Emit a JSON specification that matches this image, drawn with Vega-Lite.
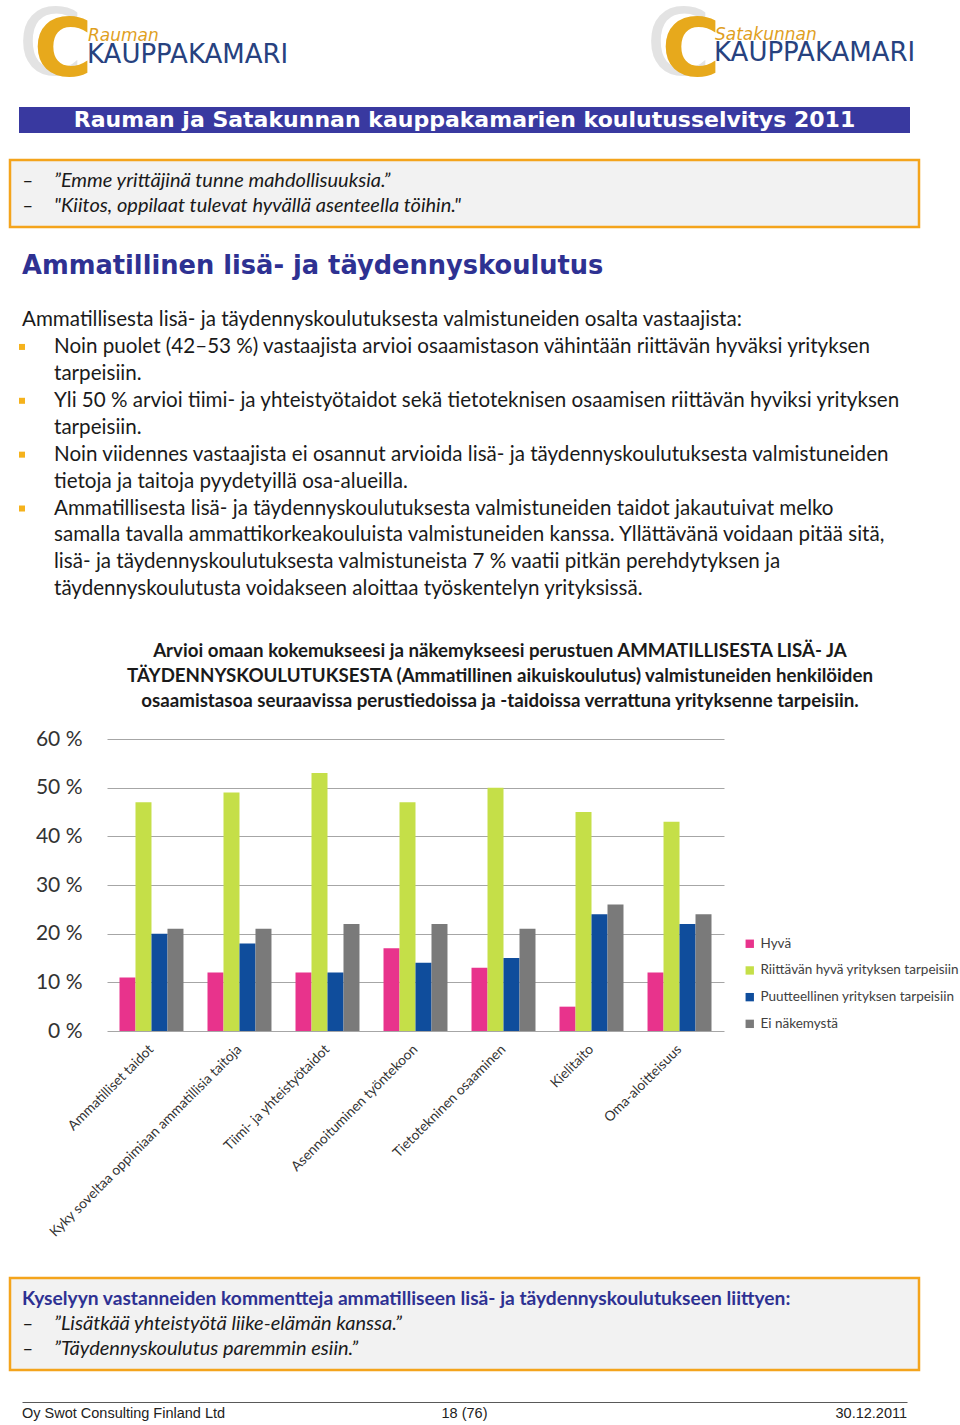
{
  "$schema": "https://vega.github.io/schema/vega-lite/v6.json",
  "padding": {"left": 8, "top": 0, "right": 0, "bottom": 0},
  "background": "white",
  "bounds": "flush",
  "spacing": 0,
  "config": {"view": {"stroke": null}, "concat": {"spacing": 0}, "font": "Lato"},
  "datasets": {
    "logos": [
      {"logo": "Rauman", "city": "Rauman", "name": "KAUPPAKAMARI", "c": "C"},
      {"logo": "Satakunnan", "city": "Satakunnan", "name": "KAUPPAKAMARI", "c": "C"}
    ],
    "banner": [{"t": "Rauman ja Satakunnan kauppakamarien koulutusselvitys 2011"}],
    "box1": [
      {"line": 1, "indent": 0, "style": "dash", "t": "–"},
      {"line": 1, "indent": 1, "style": "quote", "t": "”Emme yrittäjinä tunne mahdollisuuksia.”"},
      {"line": 2, "indent": 0, "style": "dash", "t": "–"},
      {"line": 2, "indent": 1, "style": "quote", "t": "\"Kiitos, oppilaat tulevat hyvällä asenteella töihin.\""}
    ],
    "body": [
      {"line": 0, "indent": 0, "style": "h", "t": "Ammatillinen lisä- ja täydennyskoulutus"},
      {"line": 2, "indent": 0, "style": "p", "t": "Ammatillisesta lisä- ja täydennyskoulutuksesta valmistuneiden osalta vastaajista:"},
      {"line": 3, "indent": 0, "style": "bullet"},
      {"line": 3, "indent": 1, "style": "p", "t": "Noin puolet (42–53 %) vastaajista arvioi osaamistason vähintään riittävän hyväksi yrityksen"},
      {"line": 4, "indent": 1, "style": "p", "t": "tarpeisiin."},
      {"line": 5, "indent": 0, "style": "bullet"},
      {"line": 5, "indent": 1, "style": "p", "t": "Yli 50 % arvioi tiimi- ja yhteistyötaidot sekä tietoteknisen osaamisen riittävän hyviksi yrityksen"},
      {"line": 6, "indent": 1, "style": "p", "t": "tarpeisiin."},
      {"line": 7, "indent": 0, "style": "bullet"},
      {"line": 7, "indent": 1, "style": "p", "t": "Noin viidennes vastaajista ei osannut arvioida lisä- ja täydennyskoulutuksesta valmistuneiden"},
      {"line": 8, "indent": 1, "style": "p", "t": "tietoja ja taitoja pyydetyillä osa-alueilla."},
      {"line": 9, "indent": 0, "style": "bullet"},
      {"line": 9, "indent": 1, "style": "p", "t": "Ammatillisesta lisä- ja täydennyskoulutuksesta valmistuneiden taidot jakautuivat melko"},
      {"line": 10, "indent": 1, "style": "p", "t": "samalla tavalla ammattikorkeakouluista valmistuneiden kanssa. Yllättävänä voidaan pitää sitä,"},
      {"line": 11, "indent": 1, "style": "p", "t": "lisä- ja täydennyskoulutuksesta valmistuneista 7 % vaatii pitkän perehdytyksen ja"},
      {"line": 12, "indent": 1, "style": "p", "t": "täydennyskoulutusta voidakseen aloittaa työskentelyn yrityksissä."}
    ],
    "ctitle": [
      {"line": 1, "t": "Arvioi omaan kokemukseesi ja näkemykseesi perustuen AMMATILLISESTA LISÄ- JA"},
      {"line": 2, "t": "TÄYDENNYSKOULUTUKSESTA (Ammatillinen aikuiskoulutus) valmistuneiden henkilöiden"},
      {"line": 3, "t": "osaamistasoa seuraavissa perustiedoissa ja -taidoissa verrattuna yrityksenne tarpeisiin."}
    ],
    "bars": [
      {"skill": "Ammatilliset taidot", "series": "Hyvä", "v": 11},
      {"skill": "Ammatilliset taidot", "series": "Riittävän hyvä yrityksen tarpeisiin", "v": 47},
      {"skill": "Ammatilliset taidot", "series": "Puutteellinen yrityksen tarpeisiin", "v": 20},
      {"skill": "Ammatilliset taidot", "series": "Ei näkemystä", "v": 21},
      {"skill": "Kyky soveltaa oppimiaan ammatillisia taitoja", "series": "Hyvä", "v": 12},
      {"skill": "Kyky soveltaa oppimiaan ammatillisia taitoja", "series": "Riittävän hyvä yrityksen tarpeisiin", "v": 49},
      {"skill": "Kyky soveltaa oppimiaan ammatillisia taitoja", "series": "Puutteellinen yrityksen tarpeisiin", "v": 18},
      {"skill": "Kyky soveltaa oppimiaan ammatillisia taitoja", "series": "Ei näkemystä", "v": 21},
      {"skill": "Tiimi- ja yhteistyötaidot", "series": "Hyvä", "v": 12},
      {"skill": "Tiimi- ja yhteistyötaidot", "series": "Riittävän hyvä yrityksen tarpeisiin", "v": 53},
      {"skill": "Tiimi- ja yhteistyötaidot", "series": "Puutteellinen yrityksen tarpeisiin", "v": 12},
      {"skill": "Tiimi- ja yhteistyötaidot", "series": "Ei näkemystä", "v": 22},
      {"skill": "Asennoituminen työntekoon", "series": "Hyvä", "v": 17},
      {"skill": "Asennoituminen työntekoon", "series": "Riittävän hyvä yrityksen tarpeisiin", "v": 47},
      {"skill": "Asennoituminen työntekoon", "series": "Puutteellinen yrityksen tarpeisiin", "v": 14},
      {"skill": "Asennoituminen työntekoon", "series": "Ei näkemystä", "v": 22},
      {"skill": "Tietotekninen osaaminen", "series": "Hyvä", "v": 13},
      {"skill": "Tietotekninen osaaminen", "series": "Riittävän hyvä yrityksen tarpeisiin", "v": 50},
      {"skill": "Tietotekninen osaaminen", "series": "Puutteellinen yrityksen tarpeisiin", "v": 15},
      {"skill": "Tietotekninen osaaminen", "series": "Ei näkemystä", "v": 21},
      {"skill": "Kielitaito", "series": "Hyvä", "v": 5},
      {"skill": "Kielitaito", "series": "Riittävän hyvä yrityksen tarpeisiin", "v": 45},
      {"skill": "Kielitaito", "series": "Puutteellinen yrityksen tarpeisiin", "v": 24},
      {"skill": "Kielitaito", "series": "Ei näkemystä", "v": 26},
      {"skill": "Oma-aloitteisuus", "series": "Hyvä", "v": 12},
      {"skill": "Oma-aloitteisuus", "series": "Riittävän hyvä yrityksen tarpeisiin", "v": 43},
      {"skill": "Oma-aloitteisuus", "series": "Puutteellinen yrityksen tarpeisiin", "v": 22},
      {"skill": "Oma-aloitteisuus", "series": "Ei näkemystä", "v": 24}
    ],
    "box2": [
      {"line": 1, "indent": 0, "style": "head", "t": "Kyselyyn vastanneiden kommentteja ammatilliseen lisä- ja täydennyskoulutukseen liittyen:"},
      {"line": 2, "indent": 0, "style": "dash", "t": "–"},
      {"line": 2, "indent": 1, "style": "quote", "t": "”Lisätkää yhteistyötä liike-elämän kanssa.”"},
      {"line": 3, "indent": 0, "style": "dash", "t": "–"},
      {"line": 3, "indent": 1, "style": "quote", "t": "”Täydennyskoulutus paremmin esiin.”"}
    ],
    "footer": [
      {"pos": "left", "t": "Oy Swot Consulting Finland Ltd"},
      {"pos": "center", "t": "18 (76)"},
      {"pos": "right", "t": "30.12.2011"}
    ]
  },
  "vconcat": [
    {
      "width": 952, "height": 107,
      "data": {"name": "logos"},
      "layer": [
        {"mark": {"type": "text", "font": "DejaVu Sans", "fontSize": 92, "color": "#e3e3e3", "align": "center", "baseline": "middle"},
         "encoding": {
           "text": {"field": "c"},
           "x": {"field": "logo", "type": "nominal", "scale": {"type": "point", "domain": ["Rauman", "Satakunnan"], "range": [40, 668], "padding": 0}, "axis": null},
           "y": {"field": "logo", "type": "nominal", "scale": {"type": "point", "domain": ["Rauman", "Satakunnan"], "range": [47, 47], "padding": 0}, "axis": null}}},
        {"mark": {"type": "text", "font": "DejaVu Sans", "fontWeight": "bold", "fontSize": 80, "color": "#e7a91c", "align": "center", "baseline": "middle"},
         "encoding": {
           "text": {"field": "c"},
           "x": {"field": "logo", "type": "nominal", "scale": {"type": "point", "domain": ["Rauman", "Satakunnan"], "range": [53, 681], "padding": 0}, "axis": null},
           "y": {"field": "logo", "type": "nominal", "scale": {"type": "point", "domain": ["Rauman", "Satakunnan"], "range": [52, 52], "padding": 0}, "axis": null}}},
        {"mark": {"type": "text", "font": "DejaVu Sans", "fontSize": 17, "fontStyle": "italic", "color": "#dfa01e", "align": "left", "baseline": "middle"},
         "encoding": {
           "text": {"field": "city"},
           "x": {"field": "logo", "type": "nominal", "scale": {"type": "point", "domain": ["Rauman", "Satakunnan"], "range": [78, 705], "padding": 0}, "axis": null},
           "y": {"field": "logo", "type": "nominal", "scale": {"type": "point", "domain": ["Rauman", "Satakunnan"], "range": [36, 35], "padding": 0}, "axis": null}}},
        {"mark": {"type": "text", "font": "DejaVu Sans", "fontSize": 26, "color": "#27427f", "align": "left", "baseline": "middle"},
         "encoding": {
           "text": {"field": "name"},
           "x": {"field": "logo", "type": "nominal", "scale": {"type": "point", "domain": ["Rauman", "Satakunnan"], "range": [77, 704], "padding": 0}, "axis": null},
           "y": {"field": "logo", "type": "nominal", "scale": {"type": "point", "domain": ["Rauman", "Satakunnan"], "range": [55, 53], "padding": 0}, "axis": null}}}
      ],
      "resolve": {"scale": {"x": "independent", "y": "independent"}}
    },
    {
      "bounds": "flush",
      "hconcat": [
        {"width": 9, "height": 26, "data": {"values": [{}]}, "mark": {"type": "text"}, "encoding": {"text": {"value": ""}}},
        {"width": 891, "height": 26,
         "view": {"fill": "#3939a0", "stroke": null},
         "data": {"name": "banner"},
         "mark": {"type": "text", "font": "DejaVu Sans", "fontWeight": "bold", "fontSize": 22, "color": "white", "align": "center", "baseline": "middle"},
         "encoding": {"text": {"field": "t"}}}
      ]
    },
    {"width": 952, "height": 53, "data": {"values": [{}]}, "mark": {"type": "text"}, "encoding": {"text": {"value": ""}}},
    {
      "width": 909, "height": 67,
      "view": {"fill": "#f2f2f2", "stroke": "#f4a41c", "strokeWidth": 2.5},
      "data": {"name": "box1"},
      "mark": {"type": "text", "fontSize": 20, "fontStyle": "italic", "color": "#1a1a1a", "align": "left", "baseline": "middle"},
      "encoding": {
        "text": {"field": "t"},
        "x": {"field": "indent", "type": "quantitative", "scale": {"domain": [0, 1], "range": [12, 44]}, "axis": null},
        "y": {"field": "line", "type": "ordinal", "scale": {"type": "point", "domain": [1, 2], "padding": 0.84}, "axis": null}
      }
    },
    {
      "width": 952, "height": 377,
      "data": {"name": "body"},
      "encoding": {
        "x": {"field": "indent", "type": "quantitative", "scale": {"domain": [0, 1], "range": [12, 44]}, "axis": null},
        "y": {"field": "line", "type": "ordinal", "scale": {"type": "point", "domain": [0, 1, 2, 3, 4, 5, 6, 7, 8, 9, 10, 11, 12], "padding": 1, "align": 0.727}, "axis": null}
      },
      "layer": [
        {"transform": [{"filter": "datum.style === 'h'"}],
         "mark": {"type": "text", "font": "DejaVu Sans", "fontWeight": "bold", "fontSize": 25.7, "color": "#2e3192", "align": "left", "baseline": "middle"},
         "encoding": {"text": {"field": "t"}}},
        {"transform": [{"filter": "datum.style === 'p'"}],
         "mark": {"type": "text", "fontSize": 20.6, "color": "#1a1a1a", "align": "left", "baseline": "middle"},
         "encoding": {"text": {"field": "t"}}},
        {"transform": [{"filter": "datum.style === 'bullet'"}],
         "mark": {"type": "square", "size": 36, "color": "#f5b21c", "opacity": 1, "filled": true},
         "encoding": {}}
      ]
    },
    {
      "width": 980, "height": 135,
      "data": {"name": "ctitle"},
      "mark": {"type": "text", "fontSize": 18.7, "fontWeight": "bold", "color": "#1a1a1a", "align": "center", "baseline": "middle"},
      "encoding": {
        "text": {"field": "t"},
        "y": {"field": "line", "type": "ordinal", "scale": {"type": "point", "domain": [0, 1, 2, 3, 4], "padding": 0.7, "align": 0.629}, "axis": null}
      }
    },
    {
      "bounds": "flush",
      "hconcat": [
        {"width": 97, "height": 292, "data": {"values": [{}]}, "mark": {"type": "text"}, "encoding": {"text": {"value": ""}}},
        {
          "width": 617, "height": 292,
          "data": {"name": "bars"},
          "mark": {"type": "bar"},
          "encoding": {
            "x": {"field": "skill", "type": "nominal", "sort": null,
                  "scale": {"paddingInner": 0.273, "paddingOuter": 0.142},
                  "axis": {"labelAngle": -45, "labelBaseline": "middle", "labelFontSize": 13.8, "labelFont": "Lato", "labelColor": "#333333", "ticks": false, "domain": false, "title": null, "labelPadding": 16, "labelLimit": 400, "labelOverlap": false, "grid": false}},
            "xOffset": {"field": "series", "type": "nominal",
                        "sort": ["Hyvä", "Riittävän hyvä yrityksen tarpeisiin", "Puutteellinen yrityksen tarpeisiin", "Ei näkemystä"],
                        "scale": {"paddingInner": 0, "paddingOuter": 0}},
            "y": {"field": "v", "type": "quantitative",
                  "scale": {"domain": [0, 60], "nice": false},
                  "axis": {"values": [0, 10, 20, 30, 40, 50, 60], "labelExpr": "datum.value + ' %'", "labelFontSize": 21, "labelFont": "Lato", "labelColor": "#333333", "ticks": false, "domain": false, "grid": true, "gridColor": "#a6a6a6", "gridWidth": 1, "title": null, "labelPadding": 25}},
            "color": {"field": "series", "type": "nominal",
                      "scale": {"domain": ["Hyvä", "Riittävän hyvä yrityksen tarpeisiin", "Puutteellinen yrityksen tarpeisiin", "Ei näkemystä"],
                                "range": ["#e8338c", "#c5df48", "#0f4d9c", "#7a7a7a"]},
                      "legend": {"orient": "none", "legendX": 733, "legendY": 937, "title": null, "symbolType": "square", "symbolSize": 70, "symbolStrokeWidth": 0, "labelFontSize": 13.5, "labelFont": "Lato", "labelColor": "#404040", "rowPadding": 11.7, "labelOffset": 4, "labelLimit": 300}}
          }
        }
      ]
    },
    {"width": 952, "height": 539, "data": {"values": [{}]}, "mark": {"type": "text"}, "encoding": {"text": {"value": ""}}},
    {
      "width": 909, "height": 92,
      "view": {"fill": "#f2f2f2", "stroke": "#f4a41c", "strokeWidth": 2.5},
      "data": {"name": "box2"},
      "encoding": {
        "x": {"field": "indent", "type": "quantitative", "scale": {"domain": [0, 1], "range": [12, 44]}, "axis": null},
        "y": {"field": "line", "type": "ordinal", "scale": {"type": "point", "domain": [1, 2, 3], "padding": 0.84}, "axis": null}
      },
      "layer": [
        {"transform": [{"filter": "datum.style === 'head'"}],
         "mark": {"type": "text", "fontSize": 19.2, "fontWeight": "bold", "color": "#2e3192", "align": "left", "baseline": "middle"},
         "encoding": {"text": {"field": "t"}}},
        {"transform": [{"filter": "datum.style !== 'head'"}],
         "mark": {"type": "text", "fontSize": 20, "fontStyle": "italic", "color": "#1a1a1a", "align": "left", "baseline": "middle"},
         "encoding": {"text": {"field": "t"}}}
      ]
    },
    {"width": 952, "height": 32, "data": {"values": [{}]}, "mark": {"type": "text"}, "encoding": {"text": {"value": ""}}},
    {
      "bounds": "flush",
      "hconcat": [
        {"width": 10, "height": 23, "data": {"values": [{}]}, "mark": {"type": "text"}, "encoding": {"text": {"value": ""}}},
        {
          "width": 890, "height": 23,
          "data": {"name": "footer"},
          "encoding": {
            "x": {"field": "pos", "type": "nominal", "scale": {"type": "point", "domain": ["left", "center", "right"], "range": [2, 887], "padding": 0},
                  "axis": {"orient": "top", "labels": false, "ticks": false, "domain": true, "domainColor": "#595959", "domainWidth": 1, "title": null, "grid": false}}
          },
          "layer": [
            {"transform": [{"filter": "datum.pos === 'left'"}],
             "mark": {"type": "text", "font": "Liberation Sans", "fontSize": 14.5, "color": "#222222", "align": "left", "baseline": "middle"},
             "encoding": {"text": {"field": "t"}}},
            {"transform": [{"filter": "datum.pos === 'center'"}],
             "mark": {"type": "text", "font": "Liberation Sans", "fontSize": 14.5, "color": "#222222", "align": "center", "baseline": "middle"},
             "encoding": {"text": {"field": "t"}}},
            {"transform": [{"filter": "datum.pos === 'right'"}],
             "mark": {"type": "text", "font": "Liberation Sans", "fontSize": 14.5, "color": "#222222", "align": "right", "baseline": "middle"},
             "encoding": {"text": {"field": "t"}}}
          ]
        }
      ]
    }
  ]
}
